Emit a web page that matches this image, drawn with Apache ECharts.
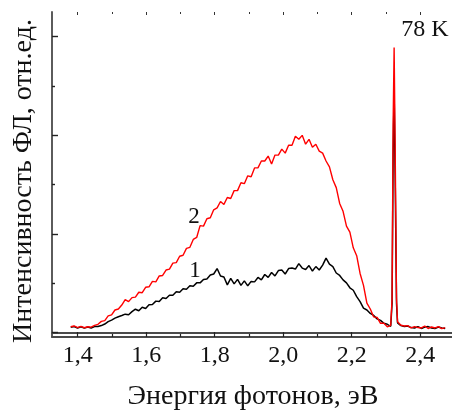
<!DOCTYPE html>
<html>
<head>
<meta charset="utf-8">
<script src="https://cdn.jsdelivr.net/npm/echarts@6/dist/echarts.min.js"></script>
<style>html,body{margin:0;padding:0;background:#fff}#c{width:452px;height:410px}</style>
</head>
<body>
<div id="c"></div>
<script>
// Photon energy, eV
const energy = [1.38,1.39,1.40,1.41,1.42,1.43,1.44,1.45,1.46,1.47,1.48,1.49,1.50,1.51,1.52,1.53,1.54,1.55,1.56,1.57,1.58,1.59,1.60,1.61,1.62,1.63,1.64,1.65,1.66,1.67,1.68,1.69,1.70,1.71,1.72,1.73,1.74,1.75,1.76,1.77,1.78,1.79,1.80,1.81,1.82,1.83,1.84,1.85,1.86,1.87,1.88,1.89,1.90,1.91,1.92,1.93,1.94,1.95,1.96,1.97,1.98,1.99,2.00,2.01,2.02,2.03,2.04,2.05,2.06,2.07,2.08,2.09,2.10,2.11,2.12,2.13,2.14,2.15,2.16,2.17,2.18,2.19,2.20,2.21,2.22,2.23,2.24,2.25,2.26,2.27,2.28,2.29,2.30,2.31,2.32,2.324,2.327,2.33,2.333,2.337,2.34,2.35,2.36,2.37,2.38,2.39,2.40,2.41,2.42,2.43,2.44,2.45,2.46,2.47,2.48];
// Curve 2 (red)
const curve2 = [0.06,0.068,0.052,0.064,0.05,0.06,0.056,0.074,0.085,0.115,0.122,0.17,0.18,0.23,0.24,0.28,0.335,0.315,0.355,0.36,0.41,0.405,0.46,0.465,0.52,0.515,0.575,0.58,0.635,0.645,0.705,0.71,0.775,0.785,0.855,0.865,0.945,0.965,1.085,1.08,1.155,1.165,1.245,1.265,1.33,1.30,1.37,1.36,1.44,1.44,1.52,1.51,1.59,1.58,1.67,1.67,1.74,1.74,1.79,1.71,1.80,1.80,1.86,1.82,1.90,1.90,1.99,1.96,2.00,1.91,1.96,1.88,1.91,1.84,1.82,1.74,1.68,1.55,1.47,1.31,1.23,1.08,1.02,0.86,0.78,0.60,0.48,0.30,0.24,0.16,0.155,0.095,0.095,0.06,0.075,0.35,2.1,2.89,1.9,0.35,0.11,0.075,0.068,0.072,0.048,0.062,0.052,0.048,0.068,0.042,0.058,0.048,0.062,0.042,0.052];
// Curve 1 (black)
const curve1 = [0.055,0.062,0.048,0.06,0.046,0.057,0.048,0.062,0.063,0.072,0.088,0.112,0.128,0.148,0.162,0.174,0.188,0.182,0.214,0.238,0.222,0.258,0.246,0.284,0.286,0.32,0.316,0.354,0.346,0.38,0.38,0.415,0.41,0.445,0.44,0.475,0.47,0.505,0.505,0.54,0.545,0.585,0.595,0.65,0.575,0.565,0.485,0.55,0.495,0.54,0.48,0.525,0.475,0.52,0.515,0.56,0.535,0.59,0.56,0.61,0.575,0.63,0.635,0.595,0.65,0.655,0.645,0.70,0.655,0.64,0.68,0.625,0.67,0.635,0.685,0.755,0.695,0.67,0.605,0.58,0.535,0.505,0.455,0.43,0.365,0.315,0.25,0.23,0.195,0.175,0.14,0.125,0.095,0.085,0.065,0.3,1.8,2.45,1.6,0.3,0.10,0.072,0.062,0.068,0.052,0.048,0.062,0.043,0.057,0.062,0.048,0.043,0.057,0.048,0.043];
const xTicks = [1.4, 1.6, 1.8, 2.0, 2.2, 2.4];
const xTitle = 'Энергия фотонов, эВ';
const yTitle = 'Интенсивность ФЛ, отн.ед.';
const curveLabels = ['1', '2'];
const tempLabel = '78 K';

const FONT = '"Liberation Serif", "Times New Roman", serif';
const chart = echarts.init(document.getElementById('c'), null, {renderer: 'canvas'});
const pairs = vals => energy.map((e, i) => [e, vals[i]]);
const axisCol = '#4a4a4a';

chart.setOption({
  animation: false,
  backgroundColor: '#fff',
  grid: [
    {left: 52, top: 12, width: 402.4, height: 325},
    {left: 77.7, top: 12, width: 342.5, height: 325},
    {left: 52, top: 36.66, width: 100, height: 296.04}
  ],
  xAxis: [
    {gridIndex: 0, type: 'value', min: 1.325, max: 2.5, axisLine: {show: true, onZero: false, lineStyle: {color: axisCol, width: 1.8}}, axisTick: {show: false}, axisLabel: {show: false}, splitLine: {show: false}},
    {gridIndex: 0, type: 'value', position: 'top', min: 1.325, max: 2.5, axisLine: {show: true, lineStyle: {color: axisCol, width: 1.8}}, axisTick: {show: false}, axisLabel: {show: false}, splitLine: {show: false}},
    {gridIndex: 1, type: 'value', position: 'bottom', min: xTicks[0], max: xTicks[xTicks.length - 1], interval: 0.2,
      axisLine: {show: false}, splitLine: {show: false},
      axisTick: {show: true, inside: true, length: 5, lineStyle: {color: '#222', width: 1.2}},
      minorTick: {show: true, splitNumber: 2, length: 3, lineStyle: {color: '#222', width: 1.2}},
      axisLabel: {show: true, margin: 7, color: '#111', fontFamily: FONT, fontSize: 24,
        formatter: v => v.toFixed(1).replace('.', ',')}},
    {gridIndex: 1, type: 'value', position: 'top', min: xTicks[0], max: xTicks[xTicks.length - 1], interval: 0.2,
      axisLine: {show: false}, splitLine: {show: false}, axisLabel: {show: false},
      axisTick: {show: true, inside: true, length: 3, lineStyle: {color: '#333', width: 1}},
      minorTick: {show: true, splitNumber: 2, length: 2, lineStyle: {color: '#333', width: 1}}},
    {gridIndex: 2, type: 'value', show: false, min: 0, max: 1}
  ],
  yAxis: [
    {gridIndex: 0, type: 'value', min: -0.0436, max: 3.25, axisLine: {show: true, onZero: false, lineStyle: {color: axisCol, width: 1.8}}, axisTick: {show: false}, axisLabel: {show: false}, splitLine: {show: false}},
    {gridIndex: 1, type: 'value', show: false, min: 0, max: 1},
    {gridIndex: 2, type: 'value', position: 'left', min: 0, max: 3, interval: 1,
      axisLine: {show: false}, splitLine: {show: false}, axisLabel: {show: false},
      axisTick: {show: true, inside: true, length: 6, lineStyle: {color: '#222', width: 1.4}},
      minorTick: {show: true, splitNumber: 2, length: 3, lineStyle: {color: '#222', width: 1.4}}}
  ],
  series: [
    {type: 'line', xAxisIndex: 0, yAxisIndex: 0, data: pairs(curve1), showSymbol: false, symbol: 'none', lineStyle: {color: '#000', width: 1.5}, z: 2},
    {type: 'line', xAxisIndex: 0, yAxisIndex: 0, data: pairs(curve2), showSymbol: false, symbol: 'none', lineStyle: {color: '#ff0000', width: 1.4}, z: 3}
  ],
  graphic: [
    {type: 'text', x: 253, y: 397, style: {text: xTitle, font: '28px ' + FONT, fill: '#111', textAlign: 'center', textVerticalAlign: 'middle'}},
    {type: 'text', x: 24, y: 181, rotation: Math.PI / 2, style: {text: yTitle, font: '28px ' + FONT, fill: '#111', textAlign: 'center', textVerticalAlign: 'middle'}},
    {type: 'text', x: 195, y: 271, style: {text: curveLabels[0], font: '23px ' + FONT, fill: '#111', textAlign: 'center', textVerticalAlign: 'middle'}},
    {type: 'text', x: 194, y: 217, style: {text: curveLabels[1], font: '23px ' + FONT, fill: '#111', textAlign: 'center', textVerticalAlign: 'middle'}},
    {type: 'text', x: 425, y: 30, style: {text: tempLabel, font: '24px ' + FONT, fill: '#111', textAlign: 'center', textVerticalAlign: 'middle'}}
  ]
});
</script>
</body>
</html>
